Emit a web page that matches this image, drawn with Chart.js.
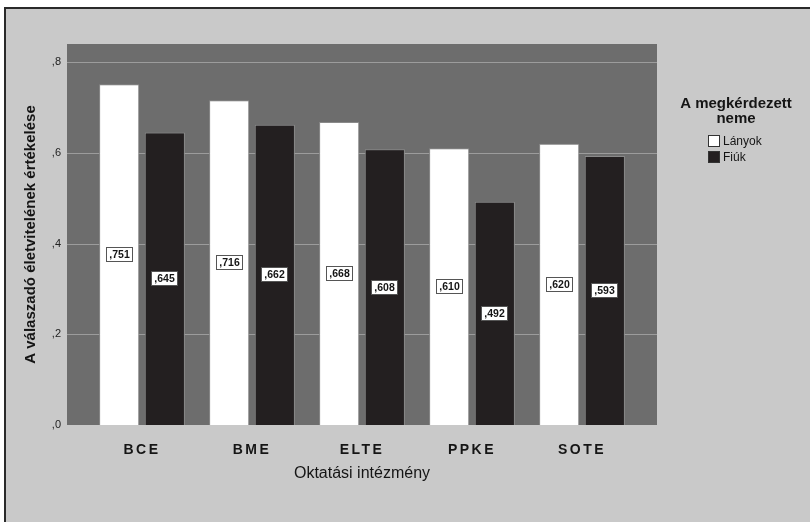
<!DOCTYPE html>
<html>
<head>
<meta charset="utf-8">
<script src="https://cdn.jsdelivr.net/npm/chart.js@4"></script>
<style>
  html, body { margin: 0; padding: 0; background: #ffffff; }
  #wrap { width: 810px; height: 522px; }
</style>
</head>
<body>
<div id="wrap"><canvas id="chart" width="810" height="522"></canvas></div>
<script>
const categories = ['BCE', 'BME', 'ELTE', 'PPKE', 'SOTE'];
const seriesLabels = ['Lányok', 'Fiúk'];
const lanyok = [0.751, 0.716, 0.668, 0.610, 0.620];
const fiuk = [0.645, 0.662, 0.608, 0.492, 0.593];
const yTicks = [0, 0.2, 0.4, 0.6, 0.8];

const FONT = "'Liberation Sans', Arial, sans-serif";

const colors = {
    page: '#c9c9c9',
    frame: '#2a2a2a',
    plot: '#6d6d6d',
    grid: '#9c9c9c',
    light: '#ffffff',
    dark: '#231f20',
    barBorder: '#8a8a8a',
    text: '#151515',
};

// gray frame, dark plot panel (wider than the category area) and gridlines
const backdrop = {
    id: 'backdrop',
    beforeDraw(chart) {
        const { ctx, chartArea: a, scales } = chart;
        ctx.save();
        ctx.fillStyle = '#ffffff';
        ctx.fillRect(0, 0, chart.width, chart.height);
        ctx.fillStyle = colors.page;
        ctx.fillRect(4, 7, chart.width - 4, chart.height - 7);
        ctx.strokeStyle = colors.frame;
        ctx.lineWidth = 2;
        ctx.beginPath();
        ctx.moveTo(5, chart.height);
        ctx.lineTo(5, 8);
        ctx.lineTo(chart.width, 8);
        ctx.stroke();

        const left = a.left - 20, right = a.right + 20;
        ctx.fillStyle = colors.plot;
        ctx.fillRect(left, a.top, right - left, a.bottom - a.top);
        ctx.strokeStyle = colors.grid;
        ctx.lineWidth = 1;
        yTicks.forEach(v => {
            if (v === 0) return;
            const y = Math.round(scales.y.getPixelForValue(v)) + 0.5;
            ctx.beginPath();
            ctx.moveTo(left, y);
            ctx.lineTo(right, y);
            ctx.stroke();
        });
        ctx.restore();
    }
};

// boxed value labels in the middle of each bar
const valueBoxes = {
    id: 'valueBoxes',
    afterDatasetsDraw(chart) {
        const { ctx } = chart;
        ctx.save();
        ctx.font = 'bold 10.5px ' + FONT;
        ctx.textAlign = 'center';
        ctx.textBaseline = 'middle';
        chart.data.datasets.forEach((ds, i) => {
            chart.getDatasetMeta(i).data.forEach((bar, j) => {
                const txt = ',' + ds.data[j].toFixed(3).split('.')[1];
                const w = Math.round(ctx.measureText(txt).width + 7);
                const h = 15;
                const x0 = Math.round(bar.x - w / 2);
                const y0 = Math.round((bar.y + bar.base) / 2 - h / 2);
                ctx.fillStyle = '#ffffff';
                ctx.fillRect(x0, y0, w, h);
                ctx.strokeStyle = '#555555';
                ctx.lineWidth = 1;
                ctx.strokeRect(x0 + 0.5, y0 + 0.5, w - 1, h - 1);
                ctx.fillStyle = colors.text;
                ctx.fillText(txt, x0 + w / 2, y0 + h / 2 + 0.5);
            });
        });
        ctx.restore();
        // the x tick labels (z: 1) are drawn next, spaced out like the original
        ctx.letterSpacing = '2.5px';
    }
};

// legend at the right, SPSS style
const sideLegend = {
    id: 'sideLegend',
    afterDraw(chart) {
        const { ctx } = chart;
        ctx.letterSpacing = '0px';
        ctx.save();
        ctx.fillStyle = colors.text;
        ctx.font = 'bold 15px ' + FONT;
        ctx.textAlign = 'center';
        ctx.textBaseline = 'middle';
        ctx.fillText('A megkérdezett', 736, 104);
        ctx.fillText('neme', 736, 119);
        ctx.font = '12px ' + FONT;
        ctx.textAlign = 'left';
        chart.data.datasets.forEach((ds, i) => {
            const y = 135 + i * 16;
            ctx.fillStyle = ds.backgroundColor;
            ctx.fillRect(708, y, 12, 12);
            ctx.strokeStyle = '#333333';
            ctx.lineWidth = 1;
            ctx.strokeRect(708.5, y + 0.5, 11, 11);
            ctx.fillStyle = colors.text;
            ctx.fillText(ds.label, 723, y + 6.5);
        });
        ctx.restore();
    }
};

new Chart(document.getElementById('chart'), {
    type: 'bar',
    data: {
        labels: categories,
        datasets: [
            {
                label: seriesLabels[0],
                data: lanyok,
                backgroundColor: colors.light,
                borderColor: colors.barBorder,
                borderWidth: 1,
                categoryPercentage: 0.83,
                barPercentage: 0.88,
            },
            {
                label: seriesLabels[1],
                data: fiuk,
                backgroundColor: colors.dark,
                borderColor: colors.barBorder,
                borderWidth: 1,
                categoryPercentage: 0.83,
                barPercentage: 0.88,
            }
        ]
    },
    options: {
        responsive: false,
        animation: false,
        layout: { padding: { left: 10, top: 44, right: 173, bottom: 37 } },
        plugins: {
            legend: { display: false },
            tooltip: { enabled: false },
        },
        scales: {
            x: {
                grid: { display: false },
                border: { display: false },
                ticks: { z: 1, color: colors.text, padding: 9, font: { family: FONT, size: 14, weight: 'bold' } },
                title: {
                    display: true,
                    text: 'Oktatási intézmény',
                    color: colors.text,
                    font: { family: FONT, size: 16 },
                    padding: { top: 0, bottom: 2 },
                },
                afterFit: s => { s.height = 60; },
            },
            y: {
                min: 0,
                max: 0.84,
                grid: { display: false, drawTicks: false },
                border: { display: false },
                afterBuildTicks: s => { s.ticks = yTicks.map(v => ({ value: v })); },
                ticks: {
                    color: '#222222',
                    padding: 26,
                    font: { family: FONT, size: 11 },
                    callback: v => ',' + Math.round(v * 10),
                },
                title: {
                    display: true,
                    text: 'A válaszadó életvitelének értékelése',
                    color: colors.text,
                    font: { family: FONT, size: 15, weight: 'bold' },
                    padding: { top: 12, bottom: 0 },
                },
                afterFit: s => { s.width = 77; },
            }
        }
    },
    plugins: [backdrop, valueBoxes, sideLegend]
});
</script>
</body>
</html>
